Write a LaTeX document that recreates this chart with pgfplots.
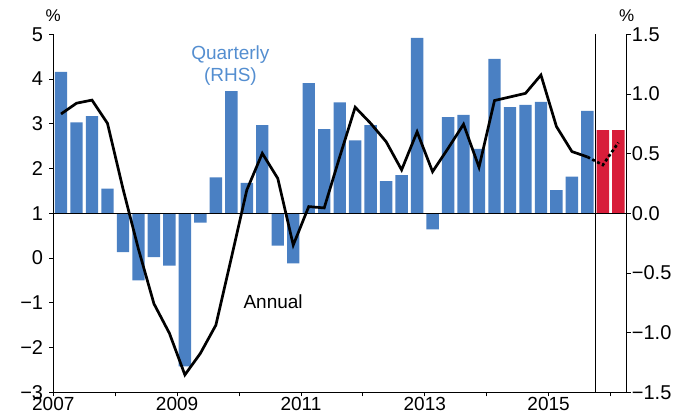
\documentclass[border=0pt]{standalone}
\usepackage{pgfplots}
\pgfplotsset{compat=1.18}
\usepackage{fontspec}
\setmainfont{Liberation Sans}
\definecolor{qblue}{RGB}{74,128,195}
\definecolor{qred}{RGB}{216,30,58}
\definecolor{lblue}{RGB}{84,142,208}

\pgfplotsset{chart/.style={scale only axis, width=573.4pt, height=358pt,
  xmin=2007, xmax=2016.26, clip mode=individual,
  tick align=outside, major tick length=4pt,
  axis line style={line width=1pt}, tick style={line width=0.8pt, black},
  ticklabel style={font=\fontsize{20}{20}\selectfont}}}

\begin{document}
\begin{tikzpicture}
\useasboundingbox (-53.3pt,-24.7pt) rectangle (625.7pt,392.3pt);
% quarterly bars on the right-hand axis
\begin{axis}[chart, axis y line*=right, axis x line*=bottom,
  ymin=-1.5, ymax=1.5, ytick={-1.5,-1,-0.5,0,0.5,1,1.5},
  yticklabels={−1.5,−1.0,−0.5,0.0,0.5,1.0,1.5},
  xtick={2007,...,2016}, xticklabels={2007,,2009,,2011,,2013,,2015,},
  yticklabel style={inner sep=1pt},
  xticklabel style={inner sep=0pt, yshift=-1pt, font=\fontsize{19}{19}\selectfont}]
\addplot[ybar, bar width=0.2, bar shift=0pt, fill=qblue, draw=none] coordinates {
 (2007.125,1.185)(2007.375,0.761)(2007.625,0.814)(2007.875,0.206)
 (2008.125,-0.326)(2008.375,-0.563)(2008.625,-0.368)(2008.875,-0.439)
 (2009.125,-1.283)(2009.375,-0.079)(2009.625,0.300)(2009.875,1.024)
 (2010.125,0.255)(2010.375,0.739)(2010.625,-0.270)(2010.875,-0.420)
 (2011.125,1.091)(2011.375,0.705)(2011.625,0.930)(2011.875,0.611)
 (2012.125,0.739)(2012.375,0.270)(2012.625,0.319)(2012.875,1.470)
 (2013.125,-0.135)(2013.375,0.806)(2013.625,0.825)(2013.875,0.540)
 (2014.125,1.294)(2014.375,0.889)(2014.625,0.908)(2014.875,0.934)
 (2015.125,0.195)(2015.375,0.308)(2015.625,0.859)};
\addplot[ybar, bar width=0.2, bar shift=0pt, fill=qred, draw=none] coordinates {
 (2015.875,0.698)(2016.125,0.698)};
\addplot[black, line width=1.5pt] coordinates {(2007,0)(2016.26,0)};
\addplot[black, line width=0.8pt] coordinates {(2015.75,-1.5)(2015.75,1.5)};
\node[font=\fontsize{17}{17}\selectfont, anchor=south] at (rel axis cs:1,1) [yshift=9pt] {\%};
\end{axis}
% annual growth on the left-hand axis
\begin{axis}[chart, axis y line*=left, axis x line=none,
  ymin=-3, ymax=5, ytick={-3,...,5},
  yticklabels={−3,−2,−1,0,1,2,3,4,5},
  yticklabel style={inner sep=1pt, xshift=-5pt}]
\addplot[black, line width=2.7pt] coordinates {
 (2007.125,3.22)(2007.375,3.46)(2007.625,3.53)(2007.875,3.01)
 (2008.125,1.55)(2008.375,0.20)(2008.625,-1.02)(2008.875,-1.68)
 (2009.125,-2.61)(2009.375,-2.13)(2009.625,-1.50)(2009.875,0.00)
 (2010.125,1.52)(2010.375,2.34)(2010.625,1.78)(2010.875,0.29)
 (2011.125,1.15)(2011.375,1.12)(2011.625,2.26)(2011.875,3.37)
 (2012.125,3.01)(2012.375,2.60)(2012.625,1.97)(2012.875,2.82)
 (2013.125,1.93)(2013.375,2.45)(2013.625,2.99)(2013.875,2.03)
 (2014.125,3.52)(2014.375,3.60)(2014.625,3.68)(2014.875,4.09)
 (2015.125,2.94)(2015.375,2.38)(2015.625,2.26)};
\addplot[black, line width=2.7pt, dash pattern=on 3pt off 2.5pt] coordinates {
 (2015.625,2.26)(2015.875,2.08)(2016.125,2.58)};
\node[font=\fontsize{19}{22}\selectfont, text=lblue, align=center] at (axis cs:2009.86,4.29) {Quarterly\\(RHS)};
\node[font=\fontsize{19}{19}\selectfont] at (axis cs:2010.55,-0.98) {Annual};
\node[font=\fontsize{17}{17}\selectfont, anchor=south] at (rel axis cs:0,1) [yshift=9pt] {\%};
\end{axis}
\end{tikzpicture}
\end{document}
